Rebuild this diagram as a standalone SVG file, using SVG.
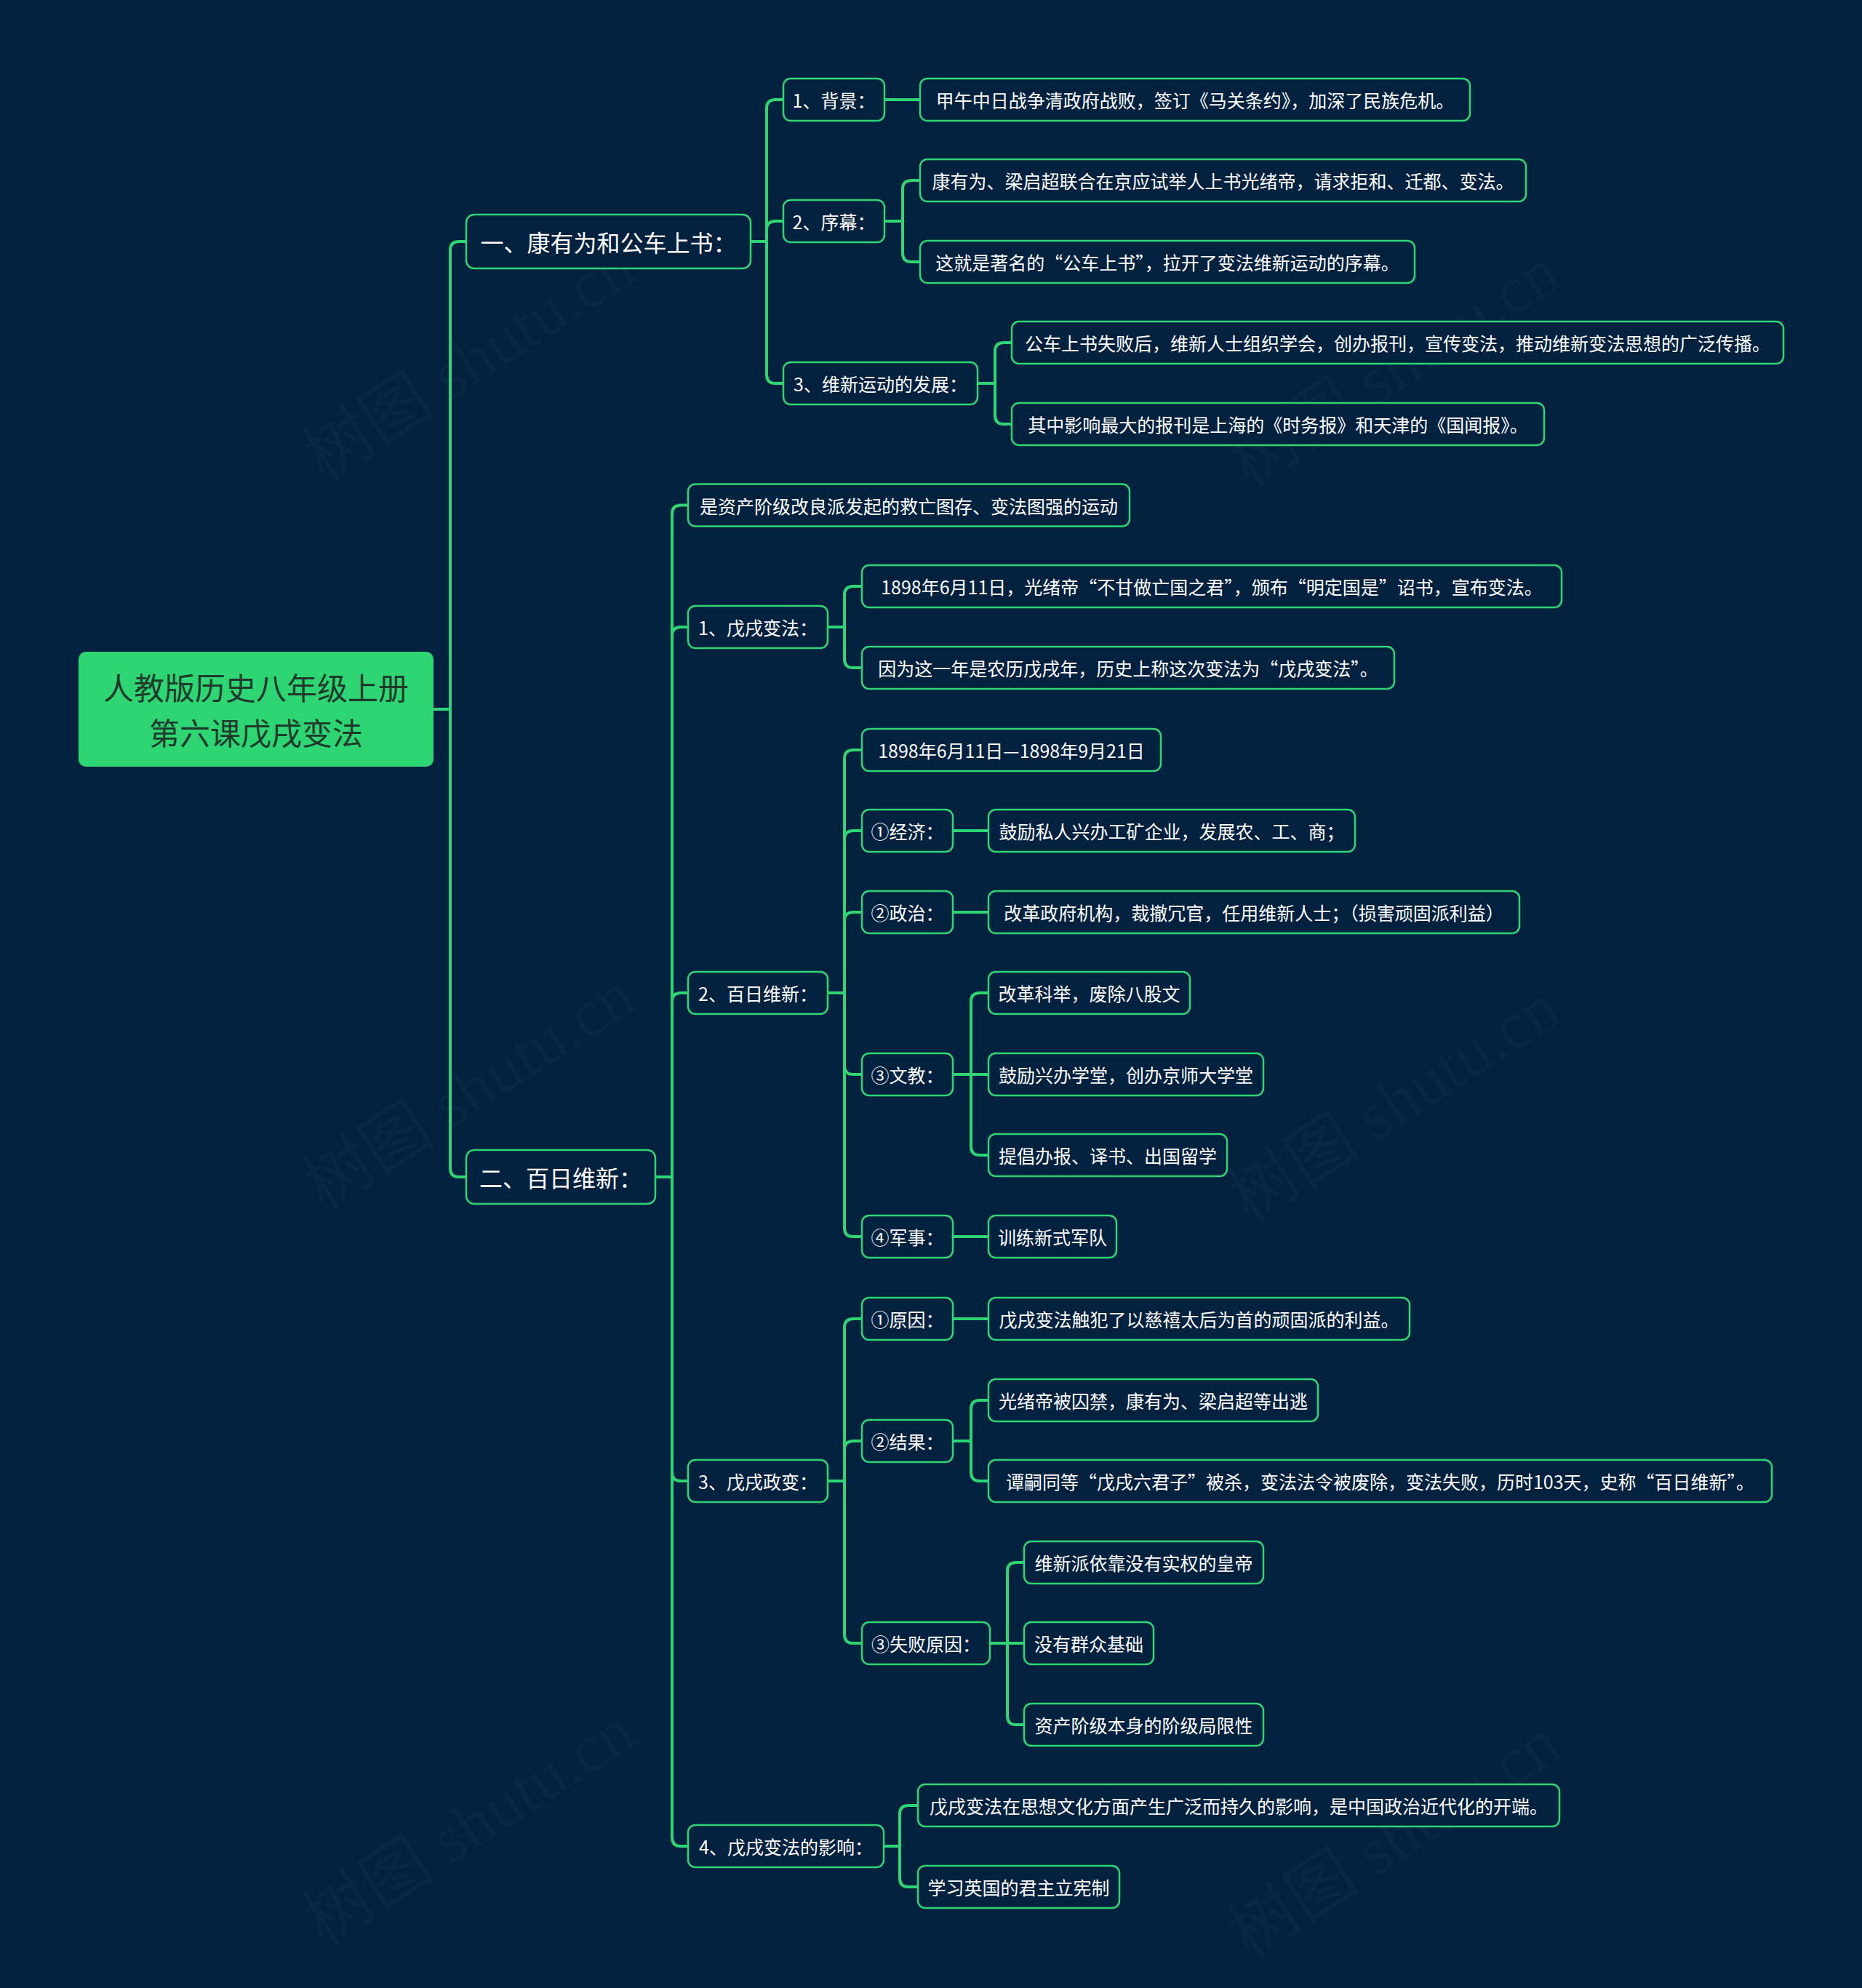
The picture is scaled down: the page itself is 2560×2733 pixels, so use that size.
<svg xmlns="http://www.w3.org/2000/svg" width="2560" height="2733" viewBox="0 0 2560 2733">
<style>
.bg{fill:#02213f}
.wm{font-family:"Liberation Serif","Noto Sans CJK SC",serif;font-size:92px;fill:#ffffff;opacity:0.025;text-anchor:middle;dominant-baseline:central}
.n rect{fill:#02213f;stroke:#2ed573;stroke-width:2.5}
.n text{fill:#ffffff;font-family:"Noto Sans CJK SC","Noto Sans",sans-serif;font-size:25px;text-anchor:middle;dominant-baseline:central}
.l1 text{font-size:32px}
.root rect{fill:#2ed573;stroke:none}
.root text{fill:#1f3a2c;font-family:"Noto Sans CJK SC","Noto Sans",sans-serif;font-size:42px;text-anchor:middle;dominant-baseline:central}
.edges path{fill:none;stroke:#2ed573;stroke-width:4;stroke-linejoin:round}
</style>
<rect class="bg" x="0" y="0" width="2560" height="2733"/>
<g id="watermarks">
<text class="wm" x="645" y="497" transform="rotate(-33 645 497)">树图 shutu.cn</text>
<text class="wm" x="1917" y="505" transform="rotate(-33 1917 505)">树图 shutu.cn</text>
<text class="wm" x="645" y="1499" transform="rotate(-33 645 1499)">树图 shutu.cn</text>
<text class="wm" x="1917" y="1516" transform="rotate(-33 1917 1516)">树图 shutu.cn</text>
<text class="wm" x="645" y="2510" transform="rotate(-33 645 2510)">树图 shutu.cn</text>
<text class="wm" x="1917" y="2527" transform="rotate(-33 1917 2527)">树图 shutu.cn</text>
</g>
<g class="edges" id="connectors">
<path d="M596 975 H619 V344 Q619 332 631 332 H641"/>
<path d="M596 975 H619 V1606 Q619 1618 631 1618 H641"/>
<path d="M1032 332 H1054 V149 Q1054 137 1066 137 H1077"/>
<path d="M1032 332 H1054 V316 Q1054 304 1066 304 H1077"/>
<path d="M1032 332 H1054 V515 Q1054 527 1066 527 H1077"/>
<path d="M1216 137 H1265"/>
<path d="M1216 304 H1241 V260 Q1241 248 1253 248 H1265"/>
<path d="M1216 304 H1241 V348 Q1241 360 1253 360 H1265"/>
<path d="M1344 527 H1368 V483 Q1368 471 1380 471 H1391"/>
<path d="M1344 527 H1368 V571 Q1368 583 1380 583 H1391"/>
<path d="M901 1618 H924 V706.5 Q924 694.5 936 694.5 H946"/>
<path d="M901 1618 H924 V874 Q924 862 936 862 H946"/>
<path d="M901 1618 H924 V1377 Q924 1365 936 1365 H946"/>
<path d="M901 1618 H924 V2024 Q924 2036 936 2036 H946"/>
<path d="M901 1618 H924 V2526 Q924 2538 936 2538 H946"/>
<path d="M1138 862 H1161 V818 Q1161 806 1173 806 H1185"/>
<path d="M1138 862 H1161 V906 Q1161 918 1173 918 H1185"/>
<path d="M1138 1365 H1161 V1043 Q1161 1031 1173 1031 H1185"/>
<path d="M1138 1365 H1161 V1154 Q1161 1142 1173 1142 H1185"/>
<path d="M1138 1365 H1161 V1266 Q1161 1254 1173 1254 H1185"/>
<path d="M1138 1365 H1161 V1465 Q1161 1477 1173 1477 H1185"/>
<path d="M1138 1365 H1161 V1688 Q1161 1700 1173 1700 H1185"/>
<path d="M1310 1142 H1359"/>
<path d="M1310 1254 H1359"/>
<path d="M1310 1477 H1335 V1377 Q1335 1365 1347 1365 H1359"/>
<path d="M1310 1477 H1359"/>
<path d="M1310 1477 H1335 V1576 Q1335 1588 1347 1588 H1359"/>
<path d="M1310 1700 H1359"/>
<path d="M1138 2036 H1161 V1825 Q1161 1813 1173 1813 H1185"/>
<path d="M1138 2036 H1161 V1993 Q1161 1981 1173 1981 H1185"/>
<path d="M1138 2036 H1161 V2247 Q1161 2259 1173 2259 H1185"/>
<path d="M1310 1813 H1359"/>
<path d="M1310 1981 H1335 V1937 Q1335 1925 1347 1925 H1359"/>
<path d="M1310 1981 H1335 V2024 Q1335 2036 1347 2036 H1359"/>
<path d="M1361 2259 H1385 V2160 Q1385 2148 1397 2148 H1408"/>
<path d="M1361 2259 H1408"/>
<path d="M1361 2259 H1385 V2359 Q1385 2371 1397 2371 H1408"/>
<path d="M1215 2538 H1237 V2494 Q1237 2482 1249 2482 H1262"/>
<path d="M1215 2538 H1237 V2582 Q1237 2594 1249 2594 H1262"/>
</g>
<g id="root" class="root">
<rect x="108" y="896" width="488" height="158" rx="10"/>
<text x="352" y="943">人教版历史八年级上册</text>
<text x="352" y="1005">第六课戊戌变法</text>
</g>
<g id="n-s1" class="n l1"><rect x="641" y="295" width="391" height="74" rx="11"/><text x="836.5" y="332">一、康有为和公车上书：</text></g>
<g id="n-s2" class="n l1"><rect x="641" y="1581" width="260" height="74" rx="11"/><text x="771" y="1618">二、百日维新：</text></g>
<g id="n-a1" class="n"><rect x="1077" y="108" width="139" height="58" rx="10"/><text x="1146.5" y="137">1、背景：</text></g>
<g id="n-a1c" class="n"><rect x="1265" y="108" width="756" height="58" rx="10"/><text x="1643" y="137">甲午中日战争清政府战败，签订《马关条约》，加深了民族危机。</text></g>
<g id="n-a2" class="n"><rect x="1077" y="275" width="139" height="58" rx="10"/><text x="1146.5" y="304">2、序幕：</text></g>
<g id="n-a2a" class="n"><rect x="1265" y="219" width="833" height="58" rx="10"/><text x="1681.5" y="248">康有为、梁启超联合在京应试举人上书光绪帝，请求拒和、迁都、变法。</text></g>
<g id="n-a2b" class="n"><rect x="1265" y="331" width="680" height="58" rx="10"/><text x="1605" y="360">这就是著名的“公车上书”，拉开了变法维新运动的序幕。</text></g>
<g id="n-a3" class="n"><rect x="1077" y="498" width="267" height="58" rx="10"/><text x="1210.5" y="527">3、维新运动的发展：</text></g>
<g id="n-a3a" class="n"><rect x="1391" y="442" width="1061" height="58" rx="10"/><text x="1921.5" y="471">公车上书失败后，维新人士组织学会，创办报刊，宣传变法，推动维新变法思想的广泛传播。</text></g>
<g id="n-a3b" class="n"><rect x="1391" y="554" width="732" height="58" rx="10"/><text x="1757" y="583">其中影响最大的报刊是上海的《时务报》和天津的《国闻报》。</text></g>
<g id="n-b0" class="n"><rect x="946" y="665.5" width="607" height="58" rx="10"/><text x="1249.5" y="694.5">是资产阶级改良派发起的救亡图存、变法图强的运动</text></g>
<g id="n-b1" class="n"><rect x="946" y="833" width="192" height="58" rx="10"/><text x="1042" y="862">1、戊戌变法：</text></g>
<g id="n-b1a" class="n"><rect x="1185" y="777" width="962" height="58" rx="10"/><text x="1666" y="806">1898年6月11日，光绪帝“不甘做亡国之君”，颁布“明定国是”诏书，宣布变法。</text></g>
<g id="n-b1b" class="n"><rect x="1185" y="889" width="732" height="58" rx="10"/><text x="1551" y="918">因为这一年是农历戊戌年，历史上称这次变法为“戊戌变法”。</text></g>
<g id="n-b2" class="n"><rect x="946" y="1336" width="192" height="58" rx="10"/><text x="1042" y="1365">2、百日维新：</text></g>
<g id="n-b2a" class="n"><rect x="1185" y="1002" width="411" height="58" rx="10"/><text x="1390.5" y="1031">1898年6月11日—1898年9月21日</text></g>
<g id="n-b2b" class="n"><rect x="1185" y="1113" width="125" height="58" rx="10"/><text x="1247.5" y="1142">①经济：</text></g>
<g id="n-b2b1" class="n"><rect x="1359" y="1113" width="504" height="58" rx="10"/><text x="1611" y="1142">鼓励私人兴办工矿企业，发展农、工、商；</text></g>
<g id="n-b2c" class="n"><rect x="1185" y="1225" width="125" height="58" rx="10"/><text x="1247.5" y="1254">②政治：</text></g>
<g id="n-b2c1" class="n"><rect x="1359" y="1225" width="730" height="58" rx="10"/><text x="1724" y="1254">改革政府机构，裁撤冗官，任用维新人士；（损害顽固派利益）</text></g>
<g id="n-b2d" class="n"><rect x="1185" y="1448" width="125" height="58" rx="10"/><text x="1247.5" y="1477">③文教：</text></g>
<g id="n-b2d1" class="n"><rect x="1359" y="1336" width="277" height="58" rx="10"/><text x="1497.5" y="1365">改革科举，废除八股文</text></g>
<g id="n-b2d2" class="n"><rect x="1359" y="1448" width="378" height="58" rx="10"/><text x="1548" y="1477">鼓励兴办学堂，创办京师大学堂</text></g>
<g id="n-b2d3" class="n"><rect x="1359" y="1559" width="328" height="58" rx="10"/><text x="1523" y="1588">提倡办报、译书、出国留学</text></g>
<g id="n-b2e" class="n"><rect x="1185" y="1671" width="125" height="58" rx="10"/><text x="1247.5" y="1700">④军事：</text></g>
<g id="n-b2e1" class="n"><rect x="1359" y="1671" width="176" height="58" rx="10"/><text x="1447" y="1700">训练新式军队</text></g>
<g id="n-b3" class="n"><rect x="946" y="2007" width="192" height="58" rx="10"/><text x="1042" y="2036">3、戊戌政变：</text></g>
<g id="n-b3a" class="n"><rect x="1185" y="1784" width="125" height="58" rx="10"/><text x="1247.5" y="1813">①原因：</text></g>
<g id="n-b3a1" class="n"><rect x="1359" y="1784" width="579" height="58" rx="10"/><text x="1648.5" y="1813">戊戌变法触犯了以慈禧太后为首的顽固派的利益。</text></g>
<g id="n-b3b" class="n"><rect x="1185" y="1952" width="125" height="58" rx="10"/><text x="1247.5" y="1981">②结果：</text></g>
<g id="n-b3b1" class="n"><rect x="1359" y="1896" width="453" height="58" rx="10"/><text x="1585.5" y="1925">光绪帝被囚禁，康有为、梁启超等出逃</text></g>
<g id="n-b3b2" class="n"><rect x="1359" y="2007" width="1077" height="58" rx="10"/><text x="1897.5" y="2036">谭嗣同等“戊戌六君子”被杀，变法法令被废除，变法失败，历时103天，史称“百日维新”。</text></g>
<g id="n-b3c" class="n"><rect x="1185" y="2230" width="176" height="58" rx="10"/><text x="1273" y="2259">③失败原因：</text></g>
<g id="n-b3c1" class="n"><rect x="1408" y="2119" width="329" height="58" rx="10"/><text x="1572.5" y="2148">维新派依靠没有实权的皇帝</text></g>
<g id="n-b3c2" class="n"><rect x="1408" y="2230" width="178" height="58" rx="10"/><text x="1497" y="2259">没有群众基础</text></g>
<g id="n-b3c3" class="n"><rect x="1408" y="2342" width="329" height="58" rx="10"/><text x="1572.5" y="2371">资产阶级本身的阶级局限性</text></g>
<g id="n-b4" class="n"><rect x="946" y="2509" width="269" height="58" rx="10"/><text x="1080.5" y="2538">4、戊戌变法的影响：</text></g>
<g id="n-b4a" class="n"><rect x="1262" y="2453" width="882" height="58" rx="10"/><text x="1703" y="2482">戊戌变法在思想文化方面产生广泛而持久的影响，是中国政治近代化的开端。</text></g>
<g id="n-b4b" class="n"><rect x="1262" y="2565" width="277" height="58" rx="10"/><text x="1400.5" y="2594">学习英国的君主立宪制</text></g>
</svg>
